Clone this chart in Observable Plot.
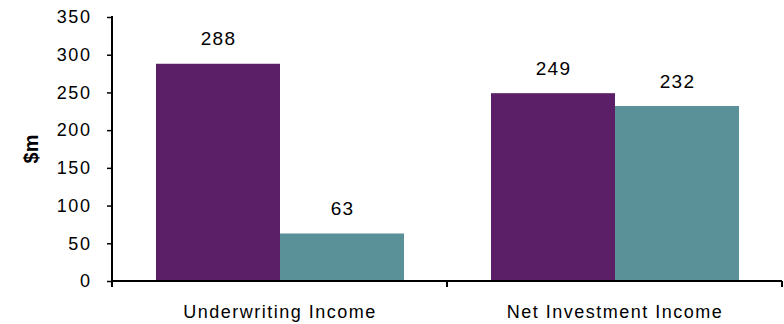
<!DOCTYPE html>
<html><head><meta charset="utf-8">
<script src="https://cdn.jsdelivr.net/npm/d3@7"></script>
<script src="https://cdn.jsdelivr.net/npm/@observablehq/plot@0.6"></script>
<style>
body{margin:0;background:#fff;}
#chart svg{display:block;}
</style></head><body><div id="chart"></div>
<script>
const categories = ["Underwriting Income", "Net Investment Income"];
const seriesNames = ["Series A", "Series B"];
const seriesA = [288, 249];
const seriesB = [63, 232];
const seriesColors = ["#5B1F68", "#5A9198"];
const yTicks = [0, 50, 100, 150, 200, 250, 300, 350];
const yLabel = "$m";

const data = [];
categories.forEach((c, i) => {
  data.push({category: c, series: seriesNames[0], value: seriesA[i]});
  data.push({category: c, series: seriesNames[1], value: seriesB[i]});
});

const plot = Plot.plot({
  width: 784, height: 324,
  marginTop: 17, marginBottom: 43, marginLeft: 112, marginRight: 2,
  style: {fontFamily: "'Liberation Sans', Arial, sans-serif", fontSize: "18px", color: "#000", background: "#fff"},
  fx: {domain: categories, padding: 0, label: null, axis: null},
  x: {domain: seriesNames, paddingInner: 0, paddingOuter: 0.34, axis: null},
  y: {domain: [0, yTicks[yTicks.length - 1]], label: null, axis: null},
  color: {domain: seriesNames, range: seriesColors},
  marks: [
    Plot.barY(data, {fx: "category", x: "series", y: "value", fill: "series"}),
    Plot.text(data, {fx: "category", x: "series", y: "value", text: d => String(d.value), dy: -25, fontSize: 19, fill: "#000"}),
    Plot.axisY({ticks: yTicks, tickSize: 5, tickPadding: 16, fontSize: 18, strokeWidth: 1.5, label: null}),
    Plot.axisFx({anchor: "bottom", tickSize: 0, tickPadding: 24, fontSize: 18, label: null})
  ]
});
document.getElementById("chart").appendChild(plot);

const svg = d3.select(plot);
// letter spacing to match the wider original lettering
svg.selectAll('g[aria-label="y-axis tick label"] text').style("letter-spacing", "1.6px");
svg.selectAll('g[aria-label="fx-axis tick label"] text').style("letter-spacing", "1.5px");
svg.selectAll('g[aria-label="text"] text').style("letter-spacing", "1.2px");

// axis lines and category boundary ticks from the plot's own scales
const fx = plot.scale("fx"), y = plot.scale("y");
const bw = fx.bandwidth != null ? fx.bandwidth : (fx.range[1] - fx.range[0]) / categories.length;
const left = fx.apply(categories[0]);
const right = fx.apply(categories[categories.length - 1]) + bw;
const y0 = y.apply(0), yTop = y.apply(yTicks[yTicks.length - 1]);
const g = svg.append("g").attr("stroke", "#000").attr("stroke-width", 2).attr("fill", "none");
g.append("line").attr("x1", left).attr("x2", left).attr("y1", yTop - 1).attr("y2", y0 + 6);
g.append("line").attr("x1", left).attr("x2", right).attr("y1", y0).attr("y2", y0);
categories.map(c => fx.apply(c)).concat([right]).forEach(xb => {
  g.append("line").attr("x1", xb).attr("x2", xb).attr("y1", y0).attr("y2", y0 + 6);
});
// rotated y-axis title, centred on the plot's vertical extent
svg.append("text")
  .attr("transform", `translate(${left - 74},${(y0 + yTop) / 2}) rotate(-90)`)
  .attr("text-anchor", "middle")
  .attr("font-weight", "bold")
  .attr("font-size", 20)
  .attr("fill", "#000")
  .text(yLabel);
</script></body></html>
